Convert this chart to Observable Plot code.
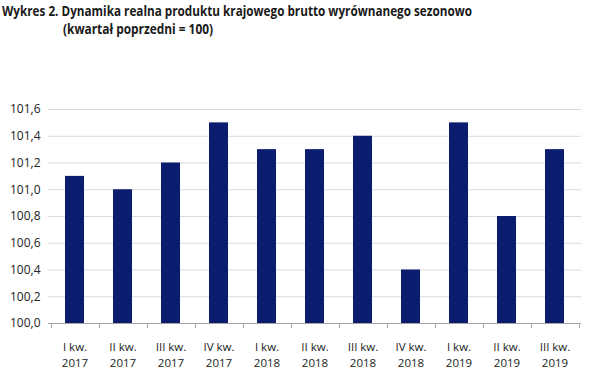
<!DOCTYPE html>
<html>
<head>
<meta charset="utf-8">
<script src="https://cdn.jsdelivr.net/npm/d3@7"></script>
<script src="https://cdn.jsdelivr.net/npm/@observablehq/plot@0.6"></script>
<style>
  html, body { margin: 0; padding: 0; background: #fff; }
  #wrap { width: 589px; height: 371px; position: relative; overflow: hidden; }
  .title { position: absolute; left: 2px; font-family: "Open Sans", sans-serif; font-weight: bold; font-size: 14px; color: #1a1a1a; white-space: nowrap; line-height: 16px; transform-origin: 0 0; display: inline-block; }
  #chart { position: absolute; left: 0; top: 44px; }
</style>
</head>
<body>
<div id="wrap">
  <div class="title" id="t1" style="top:3px;">Wykres 2. Dynamika realna produktu krajowego brutto wyrównanego sezonowo</div>
  <div class="title" id="t2" style="top:21px; left:63px;">(kwartał poprzedni = 100)</div>
  <div id="chart"></div>
</div>
<script>
const quarters = ["I kw.", "II kw.", "III kw.", "IV kw.", "I kw.", "II kw.", "III kw.", "IV kw.", "I kw.", "II kw.", "III kw."];
const years = ["2017", "2017", "2017", "2017", "2018", "2018", "2018", "2018", "2019", "2019", "2019"];
const values = [101.1, 101.0, 101.2, 101.5, 101.3, 101.3, 101.4, 100.4, 101.5, 100.8, 101.3];
const yTicks = [100.0, 100.2, 100.4, 100.6, 100.8, 101.0, 101.2, 101.4, 101.6];

// fit condensed title widths
[["t1", 470], ["t2", 150]].forEach(([id, w]) => {
  const el = document.getElementById(id);
  const cur = el.getBoundingClientRect().width;
  el.style.transform = `scaleX(${w / cur})`;
});

const data = values.map((v, i) => ({key: quarters[i] + "\n" + years[i], value: v}));
const keys = data.map(d => d.key);
const fmt = v => v.toFixed(1).replace(".", ",");

const tickMarks = (index, scales, values, dimensions) => {
  const x = scales.x;
  const step = x.step ? x.step() : (dimensions.width - dimensions.marginLeft - dimensions.marginRight) / keys.length;
  const y0 = scales.y(100);
  const g = d3.create("svg:g");
  const first = x(keys[0]) - (x.bandwidth ? (step - x.bandwidth()) / 2 : 0);
  for (let i = 0; i <= keys.length; i++) {
    const xx = Math.round(first + i * step) + 0.5;
    g.append("line").attr("x1", xx).attr("x2", xx).attr("y1", y0).attr("y2", y0 + 5)
      .attr("stroke", "#a6a6a6").attr("stroke-width", 1);
  }
  return g.node();
};

const plot = Plot.plot({
  width: 589,
  height: 327,
  marginLeft: 48,
  marginRight: 8,
  marginTop: 65,
  marginBottom: 48,
  style: {fontFamily: "'Open Sans', sans-serif", fontSize: "12px", color: "#222", background: "#fff"},
  x: {domain: keys, paddingInner: 0.6, paddingOuter: 0.3, label: null},
  y: {domain: [100, 101.6], label: null},
  marks: [
    Plot.ruleY(yTicks.slice(1), {stroke: "#d9d9d9", strokeWidth: 1}),
    Plot.barY(data, {x: "key", y1: 100, y2: "value", fill: "#0a1d6e"}),
    Plot.ruleY([100], {stroke: "#a6a6a6", strokeWidth: 1}),
    tickMarks,
    Plot.axisY({ticks: yTicks, tickFormat: fmt, tickSize: 0, tickPadding: 8, fontSize: 12, fill: "#222"}),
    Plot.axisX({tickSize: 0, tickPadding: 16, fontSize: 11.5, fill: "#222", lineHeight: 1.4})
  ]
});
document.getElementById("chart").appendChild(plot);
</script>
</body>
</html>
